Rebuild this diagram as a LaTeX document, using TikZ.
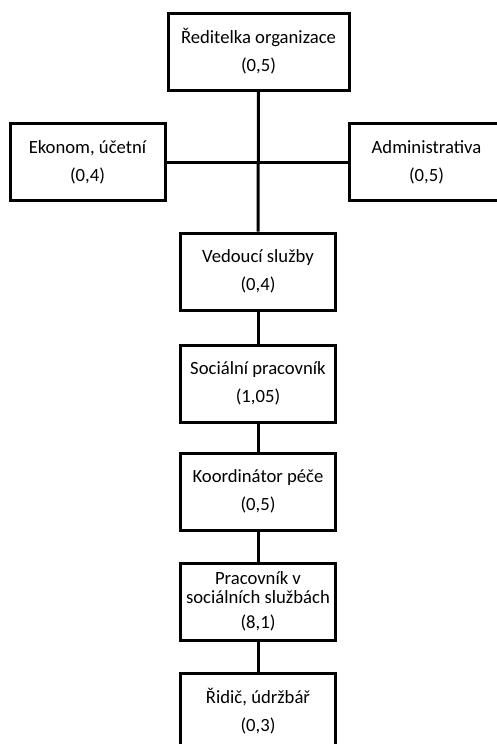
\documentclass[tikz,border=0pt]{standalone}
\usepackage{fontspec}
\setmainfont{Carlito}
\tikzset{
  pozice/.style={draw, line width=2.25pt, align=center, inner sep=0pt,
    minimum width=116.25pt, minimum height=57.75pt,
    font=\fontsize{14}{21}\selectfont},
  vazba/.style={line width=2.25pt}
}
\begin{document}
\begin{tikzpicture}[x=0.75pt,y=-0.75pt]
\path[use as bounding box, clip] (0,0) rectangle (497,744);

% Vedení
\node[pozice, minimum width=135.75pt] (reditelka) at (258.5,51.5) {Ředitelka organizace\\(0,5)};
\node[pozice] (ekonom) at (87.5,162) {Ekonom, účetní\\(0,4)};
\node[pozice] (admin) at (426.5,162) {Administrativa\\(0,5)};

% Přímá péče
\node[pozice] (vedouci) at (258,271.5) {Vedoucí služby\\(0,4)};
\node[pozice] (socprac) at (258,383.5) {Sociální pracovník\\(1,05)};
\node[pozice] (koord) at (258,491.5) {Koordinátor péče\\(0,5)};
\node[pozice] (pracss) at (258,601.5) {Pracovník v\\[-6.75pt]sociálních službách\\[-2.25pt](8,1)};
\node[pozice] (ridic) at (258,711.5) {Řidič, údržbář\\(0,3)};

% Spojnice
\draw[vazba] (reditelka) -- (vedouci);
\draw[vazba] (ekonom) -- (admin);
\draw[vazba] (vedouci) -- (socprac);
\draw[vazba] (socprac) -- (koord);
\draw[vazba] (koord) -- (pracss);
\draw[vazba] (pracss) -- (ridic);
\end{tikzpicture}
\end{document}
